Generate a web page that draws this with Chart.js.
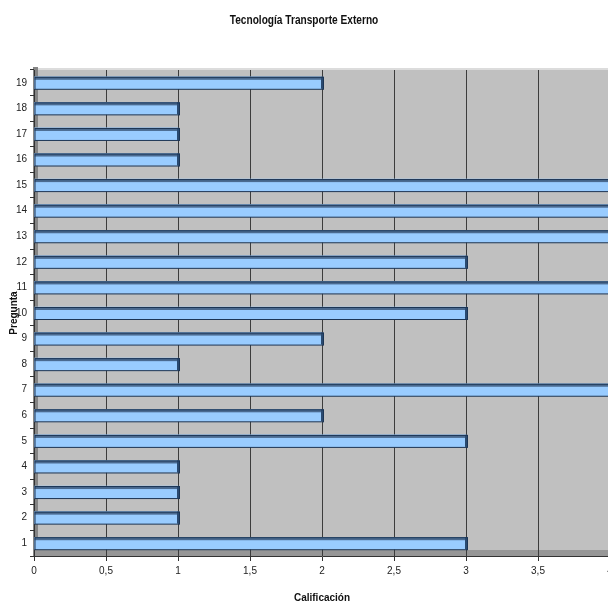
<!DOCTYPE html>
<html><head><meta charset="utf-8">
<script src="https://cdn.jsdelivr.net/npm/chart.js@4.4.1/dist/chart.umd.min.js"></script>
<style>html,body{margin:0;padding:0;overflow:hidden;background:#fff;width:608px;height:606px}</style>
</head><body>
<canvas id="c" width="660" height="606" style="width:660px;height:606px;display:block"></canvas>
<script>
const categories = ['1','2','3','4','5','6','7','8','9','10','11','12','13','14','15','16','17','18','19'];
const values = [3,1,1,1,3,2,4,1,2,3,4,3,4,4,4,1,1,1,2];
const chartTitle = 'Tecnología Transporte Externo';
const xTitle = 'Calificación';
const yTitle = 'Pregunta';

const FONT = "'Liberation Sans',Arial,sans-serif";

// draws the chart title horizontally condensed (like Arial Narrow)
const narrowTitle = {
  id: 'narrowTitle',
  afterDraw(chart, args, opts) {
    const {ctx} = chart;
    ctx.save();
    ctx.font = 'bold 13px ' + FONT;
    ctx.fillStyle = '#111';
    ctx.textAlign = 'center';
    ctx.textBaseline = 'middle';
    ctx.translate(opts.x, opts.y);
    ctx.scale(0.78, 1);
    ctx.fillText(opts.text, 0, 0);
    ctx.restore();
  }
};

const bgPlugin = {
  id: 'bg3d',
  beforeDraw(chart) {
    const {ctx, chartArea: a} = chart;
    ctx.save();
    ctx.fillStyle = '#C0C0C0';
    ctx.fillRect(a.left, a.top, a.right - a.left, a.bottom - a.top);
    ctx.fillStyle = '#858585';
    ctx.fillRect(a.left - 1, a.top - 3, 5, a.bottom - a.top + 3);
    ctx.fillStyle = '#969696';
    ctx.fillRect(a.left, a.bottom - 6, a.right - a.left, 6);
    ctx.fillStyle = '#dcdcdc';
    ctx.fillRect(a.left + 4, a.top - 2, a.right - a.left, 2);
    ctx.restore();
  },
  afterDatasetsDraw(chart) {
    const {ctx} = chart;
    const meta = chart.getDatasetMeta(0);
    ctx.save();
    meta.data.forEach(bar => {
      const p = bar.getProps(['x','y','base','height'], true);
      const top = p.y - p.height / 2;
      ctx.fillStyle = '#4a6a90';
      ctx.fillRect(p.base, top, p.x - p.base, 3);
      ctx.fillStyle = '#2a4a70';
      ctx.fillRect(p.x - 1, top, 3, p.height);
      ctx.strokeStyle = '#1c3555';
      ctx.lineWidth = 1;
      ctx.strokeRect(p.base + 0.5, top + 0.5, p.x - p.base + 1, p.height);
    });
    ctx.restore();
  }
};

new Chart(document.getElementById('c'), {
  type: 'bar',
  data: {
    labels: categories,
    datasets: [{
      data: values,
      backgroundColor: '#99CCFF',
      borderColor: '#1c3555',
      borderWidth: 0,
      barThickness: 12
    }]
  },
  plugins: [bgPlugin, narrowTitle],
  options: {
    indexAxis: 'y',
    responsive: false,
    animation: false,
    layout: {padding: {left: 0, right: 50, top: 70, bottom: 0}},
    plugins: {
      legend: {display: false},
      tooltip: {enabled: false},
      title: {display: false},
      narrowTitle: {text: chartTitle, x: 304, y: 20}
    },
    scales: {
      x: {
        min: 0, max: 4,
        ticks: {
          stepSize: 0.5,
          color: '#222',
          font: {family: FONT, size: 10},
          padding: 4,
          maxRotation: 0,
          callback: v => String(v).replace('.', ',')
        },
        grid: {color: '#3c3c3c', lineWidth: 1, drawTicks: true, tickLength: 5, tickColor: '#333'},
        border: {display: true, color: '#333'},
        title: {display: true, text: xTitle, color: '#111', font: {family: FONT, size: 10, weight: 'bold'}, padding: {top: 4, bottom: 2}},
        afterFit: s => { s.height = 50; }
      },
      y: {
        reverse: true,
        ticks: {color: '#222', font: {family: FONT, size: 10}, padding: 3},
        grid: {drawOnChartArea: false, drawTicks: true, tickLength: 4, tickColor: '#333', offset: true},
        border: {display: true, color: '#333'},
        title: {display: true, text: yTitle, color: '#111', font: {family: FONT, size: 10, weight: 'bold'}, padding: {top: 8, bottom: 0}},
        afterFit: s => { s.width = 34; }
      }
    }
  }
});
</script>
</body></html>
